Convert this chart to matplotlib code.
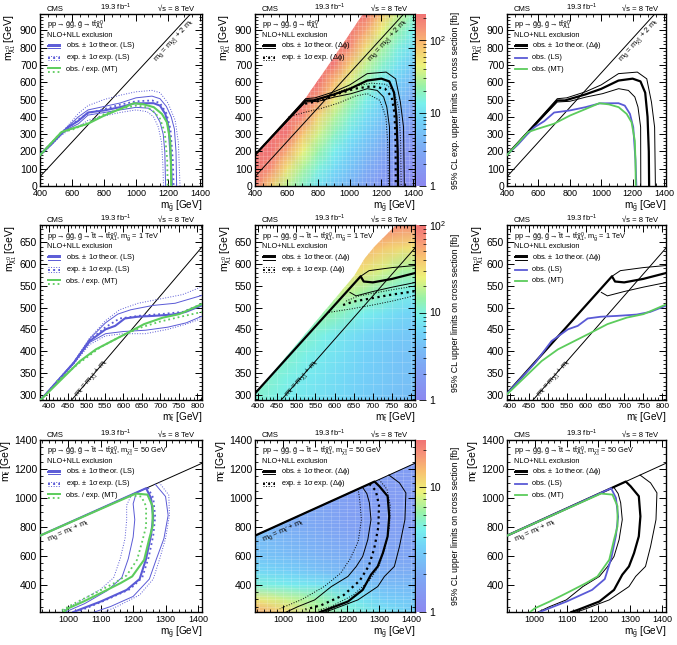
import numpy as np
import matplotlib
matplotlib.use("Agg")
from matplotlib import pyplot as plt
from matplotlib.colors import LinearSegmentedColormap, LogNorm, Normalize
from matplotlib.colorbar import ColorbarBase
from matplotlib.patches import Polygon
from matplotlib.ticker import MultipleLocator, FixedLocator, NullFormatter

plt.rcParams['font.family'] = ['Liberation Sans', 'DejaVu Sans']
plt.rcParams['mathtext.fontset'] = 'custom'
plt.rcParams['mathtext.rm'] = 'Liberation Sans'
plt.rcParams['mathtext.it'] = 'Liberation Sans'
plt.rcParams['mathtext.bf'] = 'Liberation Sans:bold'

m_top = 173

# ---------------- row 1: gluino -> t tbar chi ----------------
r1_xlims = [(400, 1412.5), (400, 1412.5), (400, 1412.5)]
r1_ylim = (0, 995)
r1_ls_obs = [(400,180),(470,240),(530,300),(575,340),(637,375),(700,425),(800,437),(900,456),(990,478),(1110,479),(1150,465),(1183,417),(1204,340),(1218,150),(1224,0)]
r1_ls_obs_up = [(400,185),(530,305),(575,345),(640,400),(700,440),(800,460),(900,480),(1000,510),(1100,520),(1150,505),(1190,460),(1220,400),(1240,330),(1250,200),(1254,0)]
r1_ls_obs_dn = [(400,175),(530,295),(575,330),(640,360),(700,410),(800,425),(900,440),(1000,455),(1080,450),(1120,420),(1150,370),(1170,300),(1180,200),(1185,0)]
r1_ls_exp = [(400,180),(530,300),(575,335),(640,385),(700,420),(800,445),(900,470),(1000,490),(1100,495),(1150,480),(1190,420),(1215,330),(1230,150),(1235,0)]
r1_ls_exp_up = [(400,185),(530,305),(575,350),(640,420),(700,465),(800,500),(900,525),(1000,545),(1100,553),(1150,540),(1200,480),(1245,380),(1265,250),(1275,0)]
r1_ls_exp_dn = [(400,175),(530,290),(575,320),(640,345),(700,380),(800,405),(900,425),(1000,440),(1070,430),(1110,400),(1140,340),(1160,250),(1168,120),(1172,0)]
r1_mt_obs = [(400,178),(534,312),(596,331),(699,360),(802,408),(905,447),(988,479),(1049,472),(1111,456),(1162,417),(1193,369),(1214,262),(1218,148),(1220,0)]
r1_mt_exp = [(400,178),(534,312),(600,325),(700,365),(800,415),(900,445),(1000,465),(1050,460),(1100,440),(1150,390),(1180,310),(1195,150),(1198,0)]
r1_dp_obs = [(400,180),(720,495),(770,495),(900,530),(1000,562),(1110,610),(1200,621),(1250,605),(1280,540),(1295,400),(1303,200),(1305,0)]
r1_dp_obs_up = [(400,180),(720,505),(780,510),(900,545),(1000,585),(1110,650),(1230,659),(1290,620),(1320,485),(1340,340),(1345,0)]
r1_dp_obs_dn = [(400,180),(720,486),(800,490),(905,515),(1008,534),(1111,563),(1173,553),(1214,515),(1234,457),(1251,341),(1252,0)]
r1_dp_exp = [(717,476),(822,495),(927,534),(1033,563),(1139,577),(1223,563),(1265,515),(1283,419),(1290,245),(1291,0)]
r1_dp_exp_up = [(730,490),(822,505),(927,545),(1033,578),(1139,595),(1230,588),(1280,545),(1310,450),(1322,250),(1325,0)]
r1_dp_exp_dn = [(612,400),(718,427),(823,450),(929,480),(1034,520),(1111,534),(1190,495),(1228,400),(1240,250),(1244,0)]
# expected limit map, log10(sigma/fb); rows = mchi, cols = mgluino
r1_map_x = [400, 500, 600, 700, 800, 900, 1000, 1100, 1200, 1300, 1400, 1412.5]
r1_map_y = [0, 100, 200, 300, 400, 500, 600, 700, 800, 900, 1000]
r1_map = [
    [2.30, 1.85, 1.50, 1.25, 1.02, 0.80, 0.60, 0.40, 0.25, 0.15, 0.10, 0.10],
    [2.40, 2.17, 1.75, 1.43, 1.19, 0.96, 0.74, 0.54, 0.36, 0.22, 0.14, 0.14],
    [2.40, 2.40, 2.05, 1.65, 1.36, 1.12, 0.90, 0.69, 0.49, 0.32, 0.19, 0.19],
    [2.40, 2.40, 2.37, 1.91, 1.55, 1.29, 1.06, 0.84, 0.63, 0.42, 0.27, 0.27],
    [2.40, 2.40, 2.40, 2.24, 1.80, 1.47, 1.22, 0.99, 0.78, 0.58, 0.38, 0.38],
    [2.40, 2.40, 2.40, 2.40, 2.12, 1.71, 1.40, 1.16, 0.93, 0.72, 0.52, 0.52],
    [2.40, 2.40, 2.40, 2.40, 2.40, 1.96, 1.60, 1.33, 1.09, 0.87, 0.66, 0.66],
    [2.40, 2.40, 2.40, 2.40, 2.40, 2.32, 1.86, 1.51, 1.26, 1.03, 0.81, 0.81],
    [2.40, 2.40, 2.40, 2.40, 2.40, 2.40, 2.19, 1.77, 1.44, 1.19, 0.97, 0.97],
    [2.40, 2.40, 2.40, 2.40, 2.40, 2.40, 2.40, 2.07, 1.66, 1.37, 1.13, 1.13],
    [2.40, 2.40, 2.40, 2.40, 2.40, 2.40, 2.40, 2.40, 1.92, 1.57, 1.30, 1.30],
]
r1_map_edge = [(400,0),(1412.5,0),(1412.5,995),(1085,995),(885,727),(716,505),(400,185)]
r1_zmax = 230

# ---------------- row 2: gluino -> stop top, m_gluino = 1 TeV ----------------
r2_xlims = [(375, 812.5), (392, 810), (392, 810)]
r2_ylim = (287.5, 690)
r2_ls_obs = [(377,288),(466,373),(509,423),(552,450),(578,458),(604,475),(638,479),(682,481),(733,484),(768,490),(812,505)]
r2_ls_obs_up = [(377,288),(466,374),(509,428),(552,465),(585,485),(620,495),(680,505),(740,510),(812,528)]
r2_ls_obs_dn = [(377,288),(466,372),(509,420),(552,440),(600,445),(660,448),(720,455),(770,465),(812,480)]
r2_ls_exp = [(377,288),(466,373),(509,425),(552,455),(590,475),(650,482),(700,485),(760,490),(812,508)]
r2_ls_exp_up = [(377,288),(466,375),(509,430),(552,470),(590,495),(640,510),(700,520),(760,530),(812,548)]
r2_ls_exp_dn = [(377,288),(466,370),(509,415),(552,435),(600,440),(660,440),(720,450),(770,462),(812,475)]
r2_mt_obs = [(377,288),(483,377),(526,404),(569,423),(612,442),(656,462),(707,477),(751,485),(812,508)]
r2_mt_exp = [(420,330),(480,372),(540,410),(600,437),(650,455),(700,468),(750,478),(812,490)]
r2_dp_obs = [(377,288),(668,572),(676,560),(700,558),(750,566),(812,580)]
r2_dp_obs_up = [(668,572),(690,585),(750,592),(812,597)]
r2_dp_obs_dn = [(640,535),(656,527),(700,537),(750,547),(812,558)]
r2_dp_exp = [(622,506),(650,514),(700,522),(750,530),(812,538)]
r2_dp_exp_up = [(630,515),(660,526),(700,533),(750,541),(812,550)]
r2_dp_exp_dn = [(585,489),(650,498),(700,506),(750,515),(812,528)]
r2_map_x = [375, 425, 475, 525, 575, 625, 675, 725, 775, 825]
r2_map_y = [287.5, 337.5, 387.5, 437.5, 487.5, 537.5, 587.5, 637.5, 687.5]
r2_map = [
    [1.05, 1.00, 0.95, 0.90, 0.85, 0.80, 0.72, 0.66, 0.60, 0.58],
    [1.10, 1.05, 0.98, 0.92, 0.86, 0.80, 0.74, 0.68, 0.62, 0.60],
    [1.10, 1.10, 1.05, 0.97, 0.90, 0.83, 0.76, 0.70, 0.64, 0.62],
    [1.15, 1.15, 1.12, 1.05, 0.97, 0.88, 0.80, 0.74, 0.68, 0.65],
    [1.20, 1.20, 1.20, 1.20, 1.15, 1.07, 0.96, 0.88, 0.80, 0.76],
    [1.30, 1.30, 1.30, 1.30, 1.30, 1.30, 1.20, 1.08, 0.98, 0.94],
    [1.50, 1.50, 1.50, 1.50, 1.50, 1.50, 1.48, 1.35, 1.22, 1.18],
    [1.70, 1.70, 1.70, 1.70, 1.70, 1.70, 1.70, 1.60, 1.50, 1.45],
    [1.90, 1.90, 1.90, 1.90, 1.90, 1.90, 1.90, 1.90, 1.85, 1.80],
]
r2_map_edge = [(375,287.5),(812.5,287.5),(812.5,690),(760,690),(730,662),(705,642),(680,615),(650,572),(375,282)]
r2_zmax = 100

# ---------------- row 3: gluino -> stop top, m_chi = 50 GeV ----------------
r3_xlims = [(912.5, 1412.5), (912.5, 1412.5), (912.5, 1412.5)]
r3_ylim = (212.5, 1400)
r3_ls_obs = [(912,739),(1240,1067),(1255,1000),(1262,870),(1255,740),(1240,580),(1220,440),(1180,365),(1100,285),(1030,225),(1015,212)]
r3_ls_obs_up = [(1268,1095),(1300,1010),(1308,880),(1295,720),(1272,580),(1250,440),(1200,320),(1130,250),(1080,212)]
r3_ls_obs_dn = [(1210,1037),(1200,960),(1205,850),(1200,730),(1185,580),(1165,450),(1120,360),(1050,270),(990,212)]
r3_ls_exp = [(1245,1072),(1262,1000),(1268,870),(1262,740),(1248,590),(1228,450),(1190,370),(1110,290),(1040,225),(1025,212)]
r3_ls_exp_up = [(1280,1107),(1310,1020),(1312,880),(1300,720),(1282,580),(1262,440),(1220,330),(1150,250),(1110,212)]
r3_ls_exp_dn = [(1195,1022),(1180,950),(1180,850),(1175,720),(1160,580),(1140,450),(1100,370),(1030,280),(980,220)]
r3_mt_obs = [(912,739),(1208,1030),(1244,1023),(1260,943),(1260,804),(1249,712),(1234,573),(1197,458),(1161,412),(1099,342),(1047,285),(1000,238),(985,212)]
r3_mt_exp = [(1190,1017),(1225,1010),(1240,943),(1240,804),(1228,700),(1212,573),(1180,465),(1140,410),(1080,340),(1030,285),(980,225)]
r3_dp_obs = [(912,739),(1286,1113),(1301,1081),(1327,1012),(1332,873),(1327,735),(1312,619),(1296,527),(1275,470),(1249,365),(1203,285),(1135,227),(1115,212)]
r3_dp_obs_up = [(1331,1158),(1364,1104),(1384,1035),(1381,850),(1364,665),(1348,527),(1317,458),(1296,388),(1234,296),(1151,227),(1130,212)]
r3_dp_obs_dn = [(1248,1075),(1262,1030),(1270,966),(1275,850),(1265,712),(1249,596),(1229,527),(1203,458),(1151,388),(1099,296),(1047,250),(1010,212)]
r3_dp_exp = [(1270,1097),(1290,1050),(1300,950),(1298,800),(1285,650),(1268,530),(1240,430),(1190,330),(1120,260),(1070,230)]
r3_dp_exp_up = [(1300,1127),(1325,1060),(1335,950),(1333,800),(1318,650),(1300,530),(1270,430),(1220,330),(1150,250),(1110,225)]
r3_dp_exp_dn = [(1235,1062),(1240,980),(1245,850),(1235,700),(1210,580),(1180,480),(1130,390),(1060,300),(990,235)]
r3_map_x = [912.5, 1012.5, 1112.5, 1212.5, 1312.5, 1412.5]
r3_map_y = [212.5, 300, 400, 500, 600, 800, 1000, 1200, 1400]
r3_map = [
    [1.20, 1.05, 0.85, 0.70, 0.60, 0.50],
    [1.00, 0.90, 0.80, 0.65, 0.50, 0.45],
    [0.70, 0.65, 0.60, 0.48, 0.40, 0.38],
    [0.55, 0.50, 0.42, 0.35, 0.32, 0.30],
    [0.45, 0.40, 0.35, 0.30, 0.27, 0.25],
    [0.38, 0.32, 0.28, 0.22, 0.20, 0.20],
    [0.35, 0.30, 0.25, 0.20, 0.18, 0.18],
    [0.35, 0.32, 0.28, 0.22, 0.20, 0.18],
    [0.40, 0.35, 0.30, 0.25, 0.22, 0.20],
]
r3_map_edge = [(912.5,212.5),(1412.5,212.5),(1412.5,1412.5-m_top),(912.5,912.5-m_top)]
r3_zmax = 24

cell = 25  # GeV binning of the limit maps

# ---------------- styles ----------------
blue = '#5a5ad6'
green = '#5ccc5c'
rainbow = LinearSegmentedColormap.from_list('cms', [
    (0.00, '#8c88f0'), (0.20, '#7ea8f4'), (0.38, '#72d2f8'), (0.48, '#78f0ec'),
    (0.58, '#98f2a8'), (0.70, '#ecf27a'), (0.82, '#f8c070'), (0.92, '#f69278'),
    (1.00, '#f07474')])

W, H = 677, 645
fig = plt.figure(figsize=(W / 100, H / 100), dpi=100)


def add_ax(l, t, r, b):
    return fig.add_axes([l / W, 1 - b / H, (r - l) / W, (b - t) / H])


def xy(c):
    return [p[0] for p in c], [p[1] for p in c]


def style(ax, xlim, ylim, ticks, xsize, xlab, ylab):
    xmaj, xmin, ymaj, ymin = ticks
    ax.set_xlim(*xlim)
    ax.set_ylim(*ylim)
    ax.xaxis.set_major_locator(MultipleLocator(xmaj))
    ax.xaxis.set_minor_locator(MultipleLocator(xmin))
    ax.yaxis.set_major_locator(MultipleLocator(ymaj))
    ax.yaxis.set_minor_locator(MultipleLocator(ymin))
    ax.tick_params(which='both', direction='in', top=True, right=True)
    ax.tick_params(axis='y', labelsize=7.5, pad=2)
    ax.tick_params(axis='x', labelsize=xsize, pad=2.5)
    ax.tick_params(which='major', length=5, width=0.7)
    ax.tick_params(which='minor', length=2.5, width=0.6)
    for s in ax.spines.values():
        s.set_linewidth(1.0)
    ax.set_xlabel(xlab, loc='right', fontsize=7.2, labelpad=0)
    ax.set_ylabel(ylab, loc='top', fontsize=7.5, labelpad=1)
    ax.text(0.043, 1.004, 'CMS', transform=ax.transAxes, fontsize=5.5, va='bottom')
    ax.text(0.37, 1.004, '19.3 fb$^{-1}$', transform=ax.transAxes, fontsize=5.5, va='bottom')
    ax.text(0.95, 1.004, '\u221as = 8 TeV', transform=ax.transAxes, fontsize=5.5, va='bottom', ha='right')


def leg_text(ax, y, s):
    ax.text(0.16, y, s, transform=ax.transAxes, fontsize=5.3, va='center')


def leg_triple(ax, y, color, ls, s):
    for off, lw in ((0.013, 0.7), (0.0, 1.4), (-0.013, 0.7)):
        ax.plot([0.05, 0.125], [y + off, y + off], transform=ax.transAxes,
                color=color, lw=lw, ls=ls, clip_on=False)
    leg_text(ax, y, s)


def leg_line(ax, y, color, ls='-', lw=1.4):
    ax.plot([0.05, 0.125], [y, y], transform=ax.transAxes, color=color, lw=lw, ls=ls)


def header(ax, proc):
    ax.text(0.043, 0.935, proc, transform=ax.transAxes, fontsize=5.3, va='center')
    ax.text(0.043, 0.875, 'NLO+NLL exclusion', transform=ax.transAxes, fontsize=5.3, va='center')


def diag(ax, xlim, offset, label, lx, ly):
    dx = np.array(xlim, dtype=float)
    ax.plot(dx, dx - offset, color='k', lw=0.7, zorder=2)
    p = ax.transData.transform([[dx[0], dx[0] - offset], [dx[1], dx[1] - offset]])
    ang = np.degrees(np.arctan2(p[1, 1] - p[0, 1], p[1, 0] - p[0, 0]))
    ax.text(lx, ly, label, rotation=ang, rotation_mode='anchor', fontsize=5.5,
            ha='center', va='center', zorder=6)


def heat(ax, mx, my, mz, edge, zmax, xlim, ylim):
    X, Y = np.meshgrid(mx, my)
    mesh = ax.pcolormesh(X, Y, np.array(mz), shading='gouraud', cmap=rainbow,
                         norm=Normalize(0, np.log10(zmax)), zorder=0)
    clip = Polygon(edge, closed=True, transform=ax.transData, fc='none', ec='none')
    ax.add_patch(clip)
    mesh.set_clip_path(clip)
    # faint bin borders of the map
    gx = np.arange(np.ceil(xlim[0] / cell) * cell, xlim[1], cell)
    gy = np.arange(np.ceil(ylim[0] / cell) * cell, ylim[1], cell)
    v = ax.vlines(gx, ylim[0], ylim[1], colors='white', lw=0.4, alpha=0.3, zorder=1)
    h = ax.hlines(gy, xlim[0], xlim[1], colors='white', lw=0.4, alpha=0.3, zorder=1)
    v.set_clip_path(clip)
    h.set_clip_path(clip)


def cbar(l, t, r, b, zmax, ticks, labels, title):
    cax = add_ax(l, t, r, b)
    cb = ColorbarBase(cax, cmap=rainbow, norm=LogNorm(1, zmax), orientation='vertical')
    cb.outline.set_linewidth(0.0)
    cax.yaxis.set_major_locator(FixedLocator(ticks))
    cax.set_yticklabels(labels)
    cax.tick_params(which='major', direction='in', length=5, width=0.6, labelsize=7.5, pad=2)
    cax.tick_params(which='minor', direction='in', length=2.5, width=0.5)
    cax.yaxis.set_minor_formatter(NullFormatter())
    fig.text(455 / W, 1 - (t + b) / 2 / H, title, rotation=90, fontsize=6.3,
             ha='center', va='center')


rows = [
    dict(top=14, bot=186, xlims=r1_xlims, ylim=r1_ylim, tick=(200, 50, 100, 20), xsize=6.5,
         xlab=r'm$_{\tilde{g}}$ [GeV]', ylab=r'm$_{\tilde{\chi}^{0}_{1}}$ [GeV]',
         proc=r'pp$\rightarrow\tilde{g}\tilde{g}$, $\tilde{g}\rightarrow t\bar{t}\tilde{\chi}^{0}_{1}$',
         ls=(r1_ls_obs, r1_ls_obs_up, r1_ls_obs_dn, r1_ls_exp, r1_ls_exp_up, r1_ls_exp_dn),
         mt=(r1_mt_obs, r1_mt_exp),
         dp=(r1_dp_obs, r1_dp_obs_up, r1_dp_obs_dn, r1_dp_exp, r1_dp_exp_up, r1_dp_exp_dn),
         map=(r1_map_x, r1_map_y, r1_map, r1_map_edge, r1_zmax),
         cb=([1, 10, 100], ['1', '10', '10$^{2}$'], '95% CL exp. upper limits on cross section [fb]'),
         diag=(2 * m_top, r'm$_{\tilde{g}}$ = m$_{\tilde{\chi}^{0}_{1}}$ + 2 m$_{t}$', 1240, 840)),
    dict(top=225, bot=400, xlims=r2_xlims, ylim=r2_ylim, tick=(50, 10, 50, 10), xsize=6.0,
         xlab=r'm$_{\tilde{t}}$ [GeV]', ylab=r'm$_{\tilde{\chi}^{0}_{1}}$ [GeV]',
         proc=r'pp$\rightarrow\tilde{g}\tilde{g}$, $\tilde{g}\rightarrow\tilde{t}t\rightarrow t\bar{t}\tilde{\chi}^{0}_{1}$, m$_{\tilde{g}}$ = 1 TeV',
         ls=(r2_ls_obs, r2_ls_obs_up, r2_ls_obs_dn, r2_ls_exp, r2_ls_exp_up, r2_ls_exp_dn),
         mt=(r2_mt_obs, r2_mt_exp),
         dp=(r2_dp_obs, r2_dp_obs_up, r2_dp_obs_dn, r2_dp_exp, r2_dp_exp_up, r2_dp_exp_dn),
         map=(r2_map_x, r2_map_y, r2_map, r2_map_edge, r2_zmax),
         cb=([1, 10, 100], ['1', '10', '10$^{2}$'], '95% CL upper limits on cross section [fb]'),
         diag=(m_top, r'm$_{\tilde{t}}$ = m$_{\tilde{\chi}^{0}_{1}}$ + m$_{t}$', 515, 338)),
    dict(top=440, bot=612, xlims=r3_xlims, ylim=r3_ylim, tick=(100, 20, 200, 50), xsize=6.5,
         xlab=r'm$_{\tilde{g}}$ [GeV]', ylab=r'm$_{\tilde{t}}$ [GeV]',
         proc=r'pp$\rightarrow\tilde{g}\tilde{g}$, $\tilde{g}\rightarrow\tilde{t}t\rightarrow t\bar{t}\tilde{\chi}^{0}_{1}$, m$_{\tilde{\chi}^{0}_{1}}$ = 50 GeV',
         ls=(r3_ls_obs, r3_ls_obs_up, r3_ls_obs_dn, r3_ls_exp, r3_ls_exp_up, r3_ls_exp_dn),
         mt=(r3_mt_obs, r3_mt_exp),
         dp=(r3_dp_obs, r3_dp_obs_up, r3_dp_obs_dn, r3_dp_exp, r3_dp_exp_up, r3_dp_exp_dn),
         map=(r3_map_x, r3_map_y, r3_map, r3_map_edge, r3_zmax),
         cb=([1, 10], ['1', '10'], '95% CL upper limits on cross section [fb]'),
         diag=(m_top, r'm$_{\tilde{g}}$ = m$_{\tilde{t}}$ + m$_{t}$', 1000, 770)),
]

cols = [(40, 202), (255, 415), (507, 666)]

for r in rows:
    t, b = r['top'], r['bot']
    axs = []
    for (l, rr), xlim in zip(cols, r['xlims']):
        ax = add_ax(l, t, rr, b)
        style(ax, xlim, r['ylim'], r['tick'], r['xsize'], r['xlab'], r['ylab'])
        header(ax, r['proc'])
        off, lab, lx, ly = r['diag']
        diag(ax, xlim, off, lab, lx, ly)
        axs.append(ax)
    a1, a2, a3 = axs
    obs, obs_up, obs_dn, exp_, exp_up, exp_dn = r['ls']
    mt_obs, mt_exp = r['mt']
    d_obs, d_up, d_dn, d_exp, d_eup, d_edn = r['dp']

    # column 1: LS and MT bands
    for c in (exp_up, exp_dn):
        a1.plot(*xy(c), color=blue, lw=0.7, ls=':', zorder=3)
    a1.plot(*xy(exp_), color=blue, lw=1.3, ls=':', zorder=3)
    for c in (obs_up, obs_dn):
        a1.plot(*xy(c), color=blue, lw=0.7, zorder=3)
    a1.plot(*xy(obs), color=blue, lw=1.5, zorder=4)
    a1.plot(*xy(mt_exp), color=green, lw=1.3, ls=':', zorder=4)
    a1.plot(*xy(mt_obs), color=green, lw=1.5, zorder=5)
    leg_triple(a1, 0.815, blue, '-', r'obs. $\pm$ 1$\sigma$ theor. (LS)')
    leg_triple(a1, 0.745, blue, ':', r'exp. $\pm$ 1$\sigma$ exp. (LS)')
    leg_line(a1, 0.685, green)
    leg_line(a1, 0.665, green, ':', 1.3)
    leg_text(a1, 0.675, 'obs. / exp. (MT)')

    # column 2: limit map + delta-phi contours
    mx, my, mz, edge, zmax = r['map']
    heat(a2, mx, my, mz, edge, zmax, r['xlims'][1], r['ylim'])
    for c in (d_eup, d_edn):
        a2.plot(*xy(c), color='k', lw=0.7, ls=':', zorder=3)
    a2.plot(*xy(d_exp), color='k', lw=1.6, ls=':', zorder=3)
    for c in (d_up, d_dn):
        a2.plot(*xy(c), color='k', lw=0.7, zorder=3)
    a2.plot(*xy(d_obs), color='k', lw=1.6, zorder=4)
    leg_triple(a2, 0.815, 'k', '-', r'obs. $\pm$ 1$\sigma$ theor. ($\Delta\phi$)')
    leg_triple(a2, 0.745, 'k', ':', r'exp. $\pm$ 1$\sigma$ exp. ($\Delta\phi$)')
    ticks, labels, title = r['cb']
    cbar(416, t, 426, b, zmax, ticks, labels, title)

    # column 3: observed comparison
    for c in (d_up, d_dn):
        a3.plot(*xy(c), color='k', lw=0.7, zorder=3)
    a3.plot(*xy(d_obs), color='k', lw=1.6, zorder=3)
    a3.plot(*xy(obs), color=blue, lw=1.3, zorder=4)
    a3.plot(*xy(mt_obs), color=green, lw=1.3, zorder=5)
    leg_triple(a3, 0.815, 'k', '-', r'obs. $\pm$ 1$\sigma$ theor. ($\Delta\phi$)')
    leg_line(a3, 0.745, blue, lw=1.3)
    leg_text(a3, 0.745, 'obs. (LS)')
    leg_line(a3, 0.68, green, lw=1.3)
    leg_text(a3, 0.68, 'obs. (MT)')

fig.savefig('out.png', dpi=100)
